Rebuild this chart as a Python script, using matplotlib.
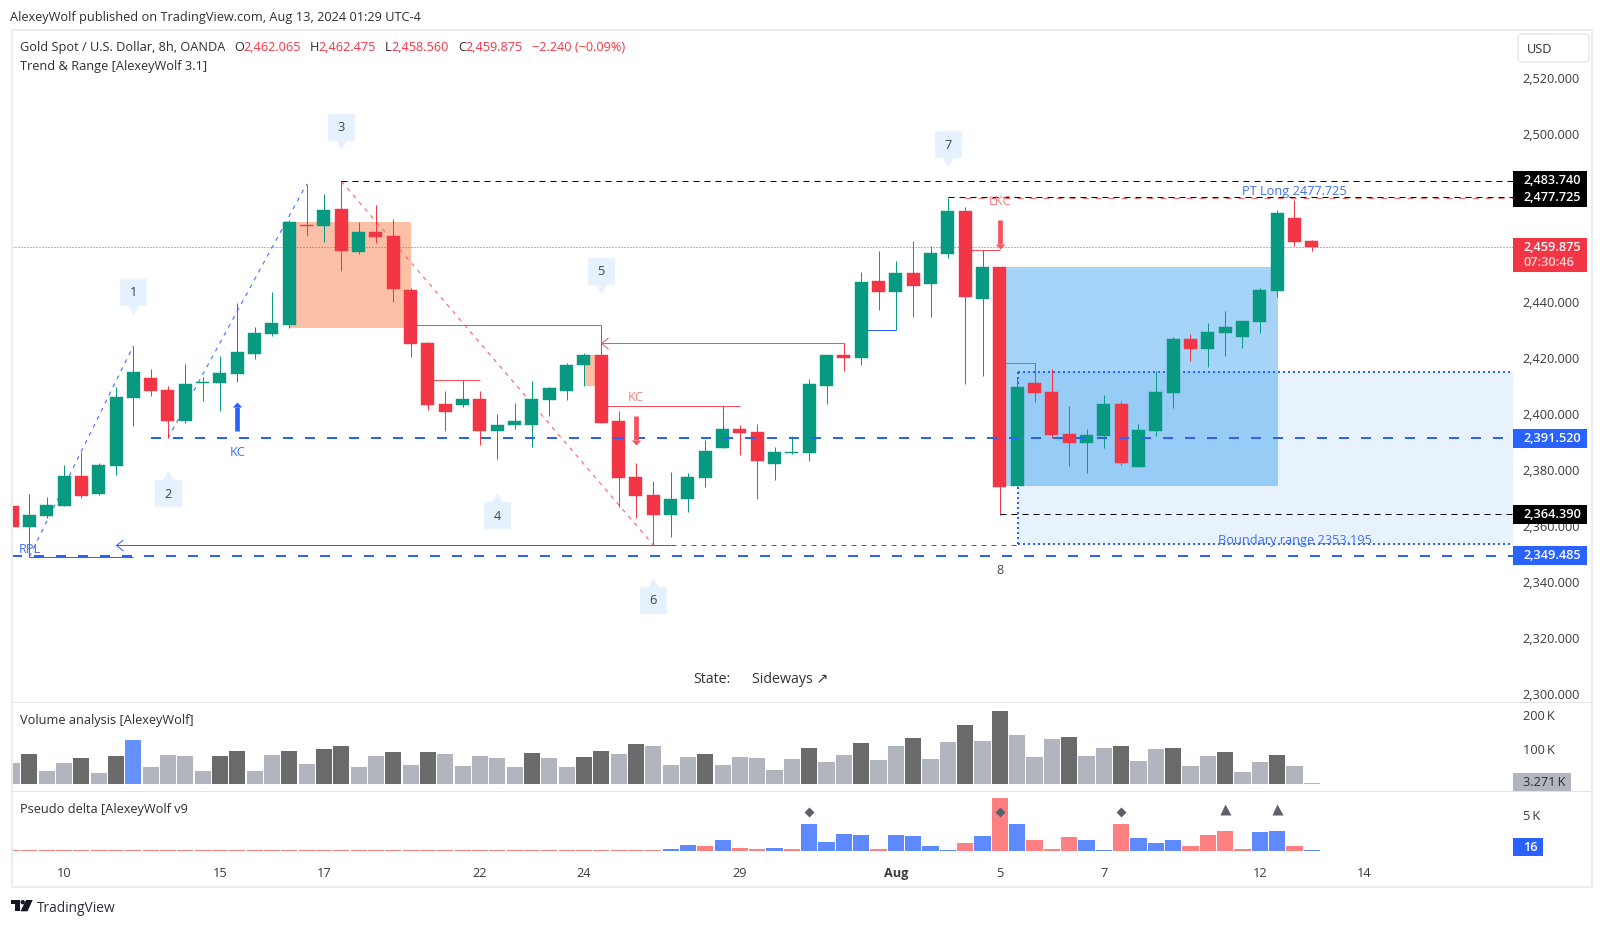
import matplotlib
matplotlib.use("Agg")
import matplotlib.pyplot as plt
from matplotlib.patches import Rectangle, Polygon, Circle, FancyBboxPatch
from matplotlib.path import Path
from matplotlib.transforms import Affine2D, ScaledTranslation

plt.rcParams['font.family'] = ['Open Sans', 'DejaVu Sans']
plt.rcParams['lines.scale_dashes'] = False

# ---------- data ----------
opens = [2367.35,2360.0,2363.8,2367.5,2378.1,2371.8,2381.8,2406.1,2413.1,2408.8,2397.9,2411.5,2411.5,2414.7,2421.8,2429.0,2432.2,2467.9,2467.6,2473.6,
         2458.3,2465.3,2463.9,2444.6,2425.7,2403.9,2403.6,2405.6,2394.3,2396.4,2396.4,2405.4,2408.6,2417.6,2421.4,2397.8,2377.8,2371.3,2364.3,2369.7,
         2377.5,2388.2,2394.9,2393.8,2382.5,2386.4,2386.4,2410.4,2421.3,2420.4,2447.8,2444.0,2450.7,2446.8,2457.6,2472.8,2441.5,2452.8,2374.6,2411.3,
         2408.1,2393.1,2390.0,2392.5,2403.8,2381.4,2394.3,2407.9,2427.1,2423.6,2429.3,2427.9,2433.3,2444.4,2470.4,2462.065]
highs = [2368.3,2371.6,2370.6,2382.0,2386.5,2382.6,2409.9,2424.6,2416.3,2410.3,2418.1,2413.5,2421.0,2440.0,2431.4,2443.9,2469.5,2482.5,2478.9,2483.5,
         2468.9,2475.0,2470.0,2445.3,2426.0,2408.5,2412.4,2408.5,2400.3,2404.2,2412.1,2409.9,2418.5,2422.1,2432.0,2401.4,2382.8,2376.3,2379.5,2379.2,
         2391.0,2403.1,2396.3,2396.7,2388.5,2392.4,2412.8,2421.3,2425.5,2451.0,2458.5,2455.0,2462.1,2460.3,2477.4,2474.3,2458.9,2452.8,2413.1,2418.4,
         2416.3,2403.1,2394.9,2407.0,2404.9,2396.7,2415.6,2427.8,2428.9,2432.8,2437.1,2433.5,2445.3,2473.2,2476.8,2462.475]
lows = [2356.4,2349.2,2363.1,2367.5,2370.3,2371.4,2378.4,2396.0,2406.7,2391.6,2397.2,2404.9,2401.3,2411.7,2419.9,2428.3,2431.1,2463.9,2461.8,2451.5,
        2457.6,2461.4,2440.4,2420.8,2401.8,2394.0,2402.9,2389.0,2384.0,2395.0,2388.6,2399.7,2405.1,2410.1,2397.2,2367.1,2363.2,2353.4,2356.1,2365.3,
        2374.3,2388.2,2385.7,2370.0,2376.8,2386.1,2383.6,2403.9,2415.7,2417.9,2437.5,2430.3,2435.0,2435.0,2456.1,2411.1,2413.9,2364.3,2374.6,2404.6,
        2391.8,2381.8,2379.2,2388.2,2382.1,2381.4,2392.5,2402.5,2419.3,2417.2,2421.1,2424.0,2429.3,2442.2,2460.5,2458.56]
closes = [2359.96,2364.1,2367.7,2378.1,2371.0,2382.0,2406.3,2415.3,2408.6,2397.9,2411.0,2411.7,2414.9,2422.4,2429.2,2432.8,2468.9,2467.6,2473.2,2458.7,
          2465.3,2463.6,2445.1,2425.4,2403.6,2400.8,2405.6,2394.3,2396.3,2397.8,2405.6,2409.6,2417.8,2421.4,2397.2,2377.5,2371.1,2364.3,2369.9,2377.8,
          2387.0,2394.9,2393.6,2383.6,2386.7,2386.7,2411.0,2421.3,2420.4,2447.4,2444.0,2450.7,2446.1,2457.8,2472.8,2442.2,2452.8,2374.2,2409.9,2407.9,
          2392.8,2390.0,2392.7,2403.8,2382.8,2394.5,2408.1,2427.1,2423.6,2429.6,2431.4,2433.5,2444.6,2472.1,2461.9,2459.875]
volume = [63,90,39,63,78,33,84,129,51,87,84,39,84,99,39,87,99,60,102,111,51,84,96,57,96,90,54,84,78,51,93,78,51,81,99,90,117,111,57,81,90,57,81,78,
          42,75,105,66,87,120,72,111,135,75,123,174,126,216,144,81,132,138,84,105,111,69,102,105,54,84,96,36,66,87,54,3.271]
volume_kind = ['l','d','l','l','d','l','d','b','l','l','l','l','d','d','l','l','d','l','d','d','l','l','d','l','d','l','l','l','l','l','d','l','l','d','d','l','d','l','l','l','d','l','l','l',
               'l','l','d','l','l','d','l','l','d','l','l','d','l','d','l','l','l','d','l','l','d','l','l','d','l','l','d','l','l','d','l','l']
delta = [0.14]*38 + [0.29,0.86,0.71,1.57,0.43,0.29,0.43,0.29,3.86,1.29,2.43,2.29,0.29,2.29,2.14,0.71,0.14,1.14,2.14,7.57,3.86,1.57,0.29,2.0,1.57,0.14,3.86,1.86,1.14,1.57,0.71,2.29,2.86,0.29,2.71,2.86,0.71,0.14]
delta_kind = ['r']*38 + ['b','b','r','b','r','r','b','r','b','b','b','b','r','b','b','b','b','r','b','r','b','r','r','r','b','b','r','b','b','b','r','r','r','r','b','b','r','b']
delta_diamonds = [46, 57, 64]
delta_triangles = [70, 73]
tick_bars = [3, 12, 18, 27, 33, 42, 51, 57, 63, 72, 78]
tick_names = ['10', '15', '17', '22', '24', '29', 'Aug', '5', '7', '12', '14']
price_ticks = [2520, 2500, 2440, 2420, 2400, 2380, 2360, 2340, 2320, 2300]
last_price = 2459.875
wave_labels = [('1', 7, 2444.0, 'down'), ('2', 9, 2371.9, 'up'), ('3', 19, 2503.0, 'down'), ('4', 28, 2364.1, 'up'),
               ('5', 34, 2451.5, 'down'), ('6', 37, 2333.8, 'up'), ('7', 54, 2496.8, 'down')]

# ---------- layout ----------
W, H = 1603, 926
PX = Affine2D().scale(1, -1).translate(0, H)
L, R = 11.5, 1513.0
T_MAIN, T_VOL, T_DELTA, B_DELTA = 30.0, 702.3, 791.3, 858.0
XMIN, XMAX = -0.03, 86.61
n = len(opens)
xs = list(range(n))
GREEN, RED = '#089981', '#F23645'
TXT = '#2E2E33'
BLUE = '#2962FF'
BLUE_TXT = '#3F6FF5'
LINE_RED = '#F4515A'
PXPT = 0.72

fig = plt.figure(figsize=(W / 100, H / 100), dpi=100, facecolor='white')
def mk_ax(top, bottom):
    a = fig.add_axes([L / W, 1 - bottom / H, (R - L) / W, (bottom - top) / H])
    a.set_xlim(XMIN, XMAX)
    for s in a.spines.values():
        s.set_visible(False)
    a.yaxis.tick_right()
    a.tick_params(axis='both', length=0, labelsize=9.2, labelcolor='#3A3A40')
    a.tick_params(axis='y', pad=6.9)
    a.set_xticks([])
    a.patch.set_alpha(0)
    return a
ax = mk_ax(T_MAIN, T_VOL)
ax_v = mk_ax(T_VOL, T_DELTA)
ax_d = mk_ax(T_DELTA, B_DELTA)
ax.set_ylim(2297.14, 2537.59)
ax_v.set_ylim(-20.6, 240.3)
ax_d.set_ylim(-1.0, 8.53)

# ---------- zones ----------
ax.add_patch(Rectangle((16, 2431.1), 7.02, 2468.9 - 2431.1, fc='#FBC0A6', ec='none', zorder=1))
ax.add_patch(Rectangle((33.02, 2410.1), 0.98, 2421.4 - 2410.1, fc='#FBC0A6', ec='none', zorder=1))
ax.add_patch(Rectangle((57, 2374.6), 16.05, 2452.8 - 2374.6, fc='#A5D4F8', ec='none', zorder=1))
ax.add_patch(Rectangle((58.02, 2353.6), XMAX - 58.02, 2415.3 - 2353.6, fc='#1E87F5', alpha=0.1, ec='none', zorder=1.1))

def hl(price, x0, x1, color, lw, ls='-', z=2):
    kw = dict(color=color, lw=lw * PXPT, zorder=z, solid_capstyle='butt', dash_capstyle='butt')
    if ls != '-':
        ls = (0, tuple(v * PXPT for v in ls))
    ax.plot([x0, x1], [price, price], ls=ls, **kw)

# boundary dotted frame
DOT = (2, 3)
hl(2415.3, 58.02, XMAX, BLUE, 2, DOT, 2.2)
hl(2353.6, 58.02, XMAX, BLUE, 2, DOT, 2.2)
ax.plot([58.02, 58.02], [2353.6, 2415.3], color=BLUE, lw=2 * PXPT, ls=(0, (2 * PXPT, 3 * PXPT)), zorder=2.2)

# trend dashes
thin_dash = (0, (4 * PXPT, 5 * PXPT))
ax.plot([1, 7], [2349.2, 2424.6], color='#4A78FF', lw=1.2 * PXPT, ls=thin_dash, zorder=2)
ax.plot([9, 17], [2391.6, 2482.5], color='#4A78FF', lw=1.2 * PXPT, ls=thin_dash, zorder=2)
ax.plot([19, 37], [2483.5, 2353.4], color='#FF6B6B', lw=1.2 * PXPT, ls=thin_dash, zorder=2)

# price line
hl(last_price, XMIN, XMAX, RED, 1, (1, 2), 2)

# solid structure lines
hl(2432.0, 23, 34, LINE_RED, 1)
hl(2425.5, 34, 48, LINE_RED, 1)
hl(2412.3, 24, 27, LINE_RED, 1)
hl(2403.0, 34, 42, LINE_RED, 1)
hl(2458.9, 55, 57, LINE_RED, 1)
hl(2418.4, 57, 59, '#9A6E9E', 1)
hl(2430.2, 49, 51, BLUE, 1)
hl(2353.3, 6, 38, BLUE, 1)
hl(2353.3, 38, 58, BLUE, 1, (5, 5))
hl(2349.2, 1, 7, BLUE, 1)

# ---------- candles ----------
for i in xs:
    col = GREEN if closes[i] >= opens[i] else RED
    ax.plot([i, i], [lows[i], highs[i]], color=col, lw=1 * PXPT, zorder=3, solid_capstyle='butt')
ax.bar(xs, [abs(c - o) for o, c in zip(opens, closes)], bottom=[min(o, c) for o, c in zip(opens, closes)], width=0.75,
       color=[GREEN if c >= o else RED for o, c in zip(opens, closes)],
       edgecolor=[GREEN if c >= o else RED for o, c in zip(opens, closes)], linewidth=0.3, zorder=3.2)

# ---------- levels ----------
THICK = (10, 12)
hl(2349.485, XMIN, XMAX, BLUE, 2, THICK, 4)
hl(2391.52, 8, XMAX, BLUE, 2, THICK, 4)
hl(2477.6, 55, XMAX, '#FF6B6B', 1, (6, 7), 2.5)
BD = (6, 5)
hl(2483.74, 19, XMAX, '#000000', 1, BD, 4)
hl(2477.725, 54, XMAX, '#000000', 1, BD, 4)
hl(2364.39, 57, XMAX, '#000000', 1, BD, 4)

# chevrons
chev = Path([(0, 0), (7, 5.5), (0, 0), (7, -5.5)], [Path.MOVETO, Path.LINETO, Path.MOVETO, Path.LINETO])
ax.plot([6], [2353.3], marker=chev, ms=14 * PXPT, mfc='none', mec=BLUE, mew=1 * PXPT, zorder=4)
ax.plot([34], [2425.5], marker=chev, ms=14 * PXPT, mfc='none', mec=LINE_RED, mew=1 * PXPT, zorder=4)

# KC arrows
def arrow(i, start, tip, color, up=True):
    sgn = 1 if up else -1
    head = Path([(0, 0), (-4.7, -5.0 * sgn), (4.7, -5.0 * sgn), (0, 0)], closed=True)
    base = tip - sgn * 5 / 2.796
    ax.plot([i, i], [start, base], color=color, lw=4.7 * PXPT, solid_capstyle='butt', zorder=4)
    ax.plot([i], [tip], marker=head, ms=10 * PXPT, mfc=color, mec='none', zorder=4)
arrow(13, 2394.2, 2404.5, BLUE, True)
arrow(36, 2399.5, 2389.2, '#F7525F', False)
arrow(57, 2469.6, 2459.4, '#F7525F', False)

# ---------- text on main chart ----------
FS = 9.15
def mt(i, p, s, color, ha='center', fs=FS):
    ax.text(i, p - 0.35, s, color=color, fontsize=fs, ha=ha, va='center', zorder=5)
mt(1, 2352.2, 'RPL', BLUE_TXT)
mt(13, 2386.8, 'KC', BLUE_TXT)
mt(36, 2406.5, 'KC', '#F77C80')
mt(57, 2476.5, 'LKC', '#F77C80')
mt(74, 2480.1, 'PT Long 2477.725', BLUE_TXT)
mt(74, 2355.2, 'Boundary range 2353.195', BLUE_TXT)
mt(57, 2344.7, '8', '#4A4A52')
mt(39.31, 2305.6, 'State:', '#333338', 'left', 10.3)
mt(42.67, 2305.6, 'Sideways ↗', '#333338', 'left', 10.3)

box_down = Path([(-13.3, 13.3), (13.3, 13.3), (13.3, -13.3), (5, -13.3), (0, -22), (-5, -13.3), (-13.3, -13.3), (-13.3, 13.3)], closed=True)
box_up = Path([(-13.3, -13.3), (13.3, -13.3), (13.3, 13.3), (5, 13.3), (0, 22), (-5, 13.3), (-13.3, 13.3), (-13.3, -13.3)], closed=True)
for name, i, p, d in wave_labels:
    ax.plot([i], [p], marker=box_down if d == 'down' else box_up, ms=44 * PXPT, mfc='#E5F2FD', mec='#E9F3FD', mew=0.5, zorder=4.5)
    mt(i, p, name, '#42424A')

# ---------- right axes ----------
ax.set_yticks(price_ticks)
ax.set_yticklabels([f'{p:,.3f}' for p in price_ticks])

yt = ax.get_yaxis_transform()
BX = (1523 - L) / (R - L)
def badge(center, text, fc, tc='white', h=6.8, w=73.6, weight='semibold'):
    ax.add_patch(Rectangle((1, center - h / 2), w / (R - L), h, transform=yt, fc=fc, ec='none', clip_on=False, zorder=6))
    ax.text(BX, center, text, transform=yt, color=tc, fontsize=9.2, fontweight=weight, ha='left', va='center', zorder=7, clip_on=False)
badge(2483.74, '2,483.740', '#000000')
badge(2477.725, '2,477.725', '#000000')
badge(2391.52, '2,391.520', BLUE)
badge(2364.39, '2,364.390', '#000000')
badge(2349.485, '2,349.485', BLUE)
ax.add_patch(Rectangle((1, 2451.15), 73.6 / (R - L), 2463.2 - 2451.15, transform=yt, fc=RED, ec='none', clip_on=False, zorder=6))
ax.text(BX, last_price, '2,459.875', transform=yt, color='white', fontsize=9.2, fontweight='semibold', va='center', zorder=7)
ax.text(BX, 2454.6, '07:30:46', transform=yt, color='#FCD5D8', fontsize=9.2, fontweight='semibold', va='center', zorder=7)

# ---------- volume ----------
vc = {'l': '#B2B5BE', 'd': '#6A6A6A', 'b': '#6690FF'}
ax_v.bar(xs, volume, width=0.93, color=[vc[k] for k in volume_kind], linewidth=0, zorder=2)
ax_v.set_yticks([100, 200])
ax_v.set_yticklabels(['100\u2009K', '200\u2009K'])
ytv = ax_v.get_yaxis_transform()
ax_v.add_patch(Rectangle((1, -20.6), 58 / (R - L), 54, transform=ytv, fc='#B2B5BE', ec='none', clip_on=False, zorder=6))
ax_v.text(BX, 3.8, '3.271\u2009K', transform=ytv, color='#2E2E33', fontsize=9.2, va='center', zorder=7)

# ---------- delta ----------
dc = {'r': '#FF8080', 'b': '#5D8BFF'}
ax_d.bar(xs, delta, width=0.93, color=[dc[k] for k in delta_kind], linewidth=0, zorder=2)
ax_d.plot(delta_diamonds, [5.6] * len(delta_diamonds), ls='none', marker='D', ms=7 * PXPT, mfc='#5D606B', mec='none', zorder=3)
ax_d.plot(delta_triangles, [5.95] * len(delta_triangles), ls='none', marker='^', ms=11 * PXPT, mfc='#5D606B', mec='none', zorder=3)
ax_d.set_yticks([5])
ax_d.set_yticklabels(['5\u2009K'])
ax_d.set_xticks(tick_bars)
ax_d.set_xticklabels(tick_names)
ax_d.tick_params(axis='x', pad=6.5, labelsize=9.2)
for lab in ax_d.get_xticklabels():
    if lab.get_text() == 'Aug':
        lab.set_fontweight('bold')
ytd = ax_d.get_yaxis_transform()
ax_d.add_patch(Rectangle((1, -0.71), 30 / (R - L), 18 / 7, transform=ytd, fc=BLUE, ec='none', clip_on=False, zorder=6))
ax_d.text(BX, 0.57, '16', transform=ytd, color='white', fontsize=9.2, fontweight='semibold', va='center', zorder=7)

# nudge the y tick labels up a little
nudge = ScaledTranslation(0, 0.8 / 100, fig.dpi_scale_trans)
for a in (ax, ax_v, ax_d):
    for tk in a.yaxis.get_major_ticks():
        tk.label2.set_transform(tk.label2.get_transform() + nudge)

# ---------- frame, headers ----------
FR = '#EBECF1'
for (x, y, w, h) in [(10.5, 29, 1582, 2), (10.5, 885.7, 1582, 2), (10.5, 29, 2, 858), (1590.7, 29, 2, 858)]:
    fig.add_artist(Rectangle((x, y), w, h, transform=PX, fc=FR, ec='none', zorder=8))
for y in (T_VOL, T_DELTA):
    fig.add_artist(Rectangle((11, y - 0.5), 1580, 1.2, transform=PX, fc='#E2E3EA', ec='none', zorder=8))
fig.add_artist(FancyBboxPatch((1518, 34), 71, 28, boxstyle='round,pad=0,rounding_size=4', transform=PX, fc='white', ec='#E6E7EC', lw=1, zorder=8))

def t(x, y, s, color=TXT, fs=9.15, weight='normal', ha='left'):
    fig.text(x, y + 1, s, transform=PX, color=color, fontsize=fs, fontweight=weight, ha=ha, va='center', zorder=9)
t(10.5, 16.7, 'AlexeyWolf published on TradingView.com, Aug 13, 2024 01:29 UTC-4')
t(19.6, 46.7, 'Gold Spot / U.S. Dollar, 8h, OANDA')
t(234, 46.7, 'O'); t(243.7, 46.7, '2,462.065', RED)
t(310, 46.7, 'H'); t(318.8, 46.7, '2,462.475', RED)
t(385, 46.7, 'L'); t(391, 46.7, '2,458.560', RED)
t(458, 46.7, 'C'); t(465, 46.7, '2,459.875', RED)
t(532, 46.7, '−2.240 (−0.09%)', RED)
t(19.6, 65.7, 'Trend & Range [AlexeyWolf 3.1]')
t(19.6, 719.3, 'Volume analysis [AlexeyWolf]')
t(19.6, 808.7, 'Pseudo delta [AlexeyWolf v9')
t(1527, 48.3, 'USD')

# TradingView logo
LOGO = '#131722'
for pts in ([(11, 900), (20, 900), (20, 911.3), (15.3, 911.3), (15.3, 904), (11, 904)],
            [(26, 900), (32.7, 900), (27.5, 911.3), (20.5, 911.3)]):
    fig.add_artist(Polygon(pts, closed=True, transform=PX, fc=LOGO, ec='none', zorder=9))
fig.add_artist(Circle((22.7, 902.2), 2.2, transform=PX, fc=LOGO, ec='none', zorder=9))
t(36.7, 907, 'TradingView', '#2A2E39', 9.9)

fig.savefig('out.png', dpi=100, facecolor='white')
